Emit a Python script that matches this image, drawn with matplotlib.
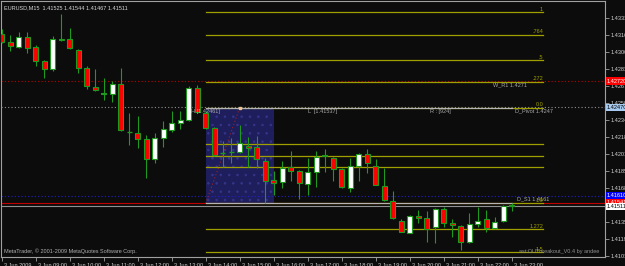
import matplotlib
matplotlib.use('Agg')
import matplotlib.pyplot as plt
from matplotlib.patches import Rectangle
import matplotlib.transforms as mtransforms

plt.rcParams['font.family'] = ['Liberation Sans', 'DejaVu Sans']

# EURUSD M15, 3 Jun 2009 08:00 .. 23:00 (one candle per 15 min)
opens = [1.43175, 1.43097, 1.43049, 1.43146, 1.43049, 1.42914, 1.42836, 1.43126,
         1.43126, 1.43020, 1.42846, 1.42663, 1.42595, 1.42595, 1.42692, 1.42228,
         1.42218, 1.42160, 1.41967, 1.42170, 1.42247, 1.42315, 1.42344, 1.42653,
         1.42411, 1.42267, 1.42025, 1.42035, 1.42035, 1.42093, 1.42083, 1.41948,
         1.41764, 1.41745, 1.41890, 1.41851, 1.41726, 1.41842, 1.41996, 1.41977,
         1.41870, 1.41687, 1.41899, 1.42015, 1.41899, 1.41706, 1.41561, 1.41368,
         1.41252, 1.41416, 1.41397, 1.41310, 1.41484, 1.41349, 1.41320, 1.41165,
         1.41339, 1.41388, 1.41301, 1.41368, 1.41525]
highs = [1.43223, 1.43165, 1.43194, 1.43194, 1.43068, 1.42923, 1.43155, 1.43368,
         1.43233, 1.43030, 1.42865, 1.42836, 1.42750, 1.42721, 1.42846, 1.42411,
         1.42382, 1.42199, 1.42218, 1.42334, 1.42431, 1.42431, 1.42672, 1.42682,
         1.42431, 1.42276, 1.42141, 1.42170, 1.42296, 1.42180, 1.42189, 1.41977,
         1.41851, 1.41948, 1.42044, 1.41860, 1.41977, 1.42044, 1.42064, 1.41986,
         1.41880, 1.41977, 1.42025, 1.42064, 1.41967, 1.41880, 1.41658, 1.41388,
         1.41426, 1.41474, 1.41465, 1.41494, 1.41503, 1.41388, 1.41330, 1.41445,
         1.41503, 1.41474, 1.41407, 1.41523, 1.41544]
lows = [1.43088, 1.43010, 1.43039, 1.42991, 1.42865, 1.42750, 1.42817, 1.43107,
        1.43030, 1.42798, 1.42643, 1.42624, 1.42537, 1.42518, 1.42238, 1.42102,
        1.42073, 1.41784, 1.41928, 1.42083, 1.42228, 1.42257, 1.42334, 1.42411,
        1.42257, 1.41996, 1.41890, 1.41928, 1.42025, 1.41890, 1.41880, 1.41542,
        1.41619, 1.41687, 1.41755, 1.41581, 1.41619, 1.41697, 1.41842, 1.41755,
        1.41687, 1.41648, 1.41755, 1.41832, 1.41716, 1.41561, 1.41388, 1.41262,
        1.41248, 1.41349, 1.41165, 1.41156, 1.41310, 1.41214, 1.41088, 1.41156,
        1.41310, 1.41262, 1.41291, 1.41359, 1.41467]
closes = [1.43097, 1.43059, 1.43146, 1.43039, 1.42914, 1.42836, 1.43126, 1.43117,
          1.43039, 1.42846, 1.42672, 1.42634, 1.42605, 1.42692, 1.42247, 1.42233,
          1.42160, 1.41967, 1.42170, 1.42257, 1.42315, 1.42344, 1.42653, 1.42421,
          1.42267, 1.42006, 1.42020, 1.42040, 1.42122, 1.42073, 1.41967, 1.41755,
          1.41735, 1.41880, 1.41851, 1.41735, 1.41842, 1.41986, 1.42006, 1.41870,
          1.41695, 1.41899, 1.42015, 1.41928, 1.41720, 1.41571, 1.41392, 1.41266,
          1.41416, 1.41397, 1.41291, 1.41484, 1.41349, 1.41330, 1.41165, 1.41339,
          1.41368, 1.41301, 1.41359, 1.41513, 1.41511]

time_labels = ['3 Jun 2009', '3 Jun 09:00', '3 Jun 10:00', '3 Jun 11:00', '3 Jun 12:00',
               '3 Jun 13:00', '3 Jun 14:00', '3 Jun 15:00', '3 Jun 16:00', '3 Jun 17:00',
               '3 Jun 18:00', '3 Jun 19:00', '3 Jun 20:00', '3 Jun 21:00', '3 Jun 22:00',
               '3 Jun 23:00']
time_ticks = [0, 4, 8, 12, 16, 20, 24, 28, 32, 36, 40, 44, 48, 52, 56, 60]

price_ticks = [1.43330, 1.43165, 1.43000, 1.42835, 1.42670, 1.42505, 1.42340, 1.42180,
               1.42015, 1.41855, 1.41685, 1.41520, 1.41355, 1.41190, 1.41030]

# breakout box (14:00-16:00) and its fibo projections
box_start, box_end, line_end, fib_end = 24, 32, 60, 63.7
box_high, box_low = 1.42461, 1.41537
fib_prices = [1.43385, 1.43167, 1.42923, 1.42712, 1.42461, 1.42108, 1.41999, 1.41890,
              1.41537, 1.41286, 1.41065]
fib_names = ['1', '.764', '.5', '.272', '0.0', '', '', '', '1.0', '1.272', '1.5']

w_r1, d_pivot, d_s1 = 1.42720, 1.42465, 1.41610
bid, ask = 1.41511, 1.41542

bg = '#0c0c0c'
green = '#1e9a1e'
fib_col = '#9f9f00'
grey = '#a0a0a0'

fig = plt.figure(figsize=(6.25, 2.66), dpi=100, facecolor=bg)
ax = fig.add_axes([1 / 625, 9 / 266, 604 / 625, 256 / 266], facecolor=bg)
ax.set_xlim(-0.08, 70.98)
ax.set_ylim(1.41020, 1.43493)

# box
plt.rcParams['hatch.linewidth'] = 0.6
ax.add_patch(Rectangle((box_start, box_low), box_end - box_start, box_high - box_low,
                       facecolor='#1e1e5c', edgecolor='#34348a', hatch='..', lw=0, zorder=1))
ax.plot([box_start, box_start + 4], [box_low, box_high], color='#a02020',
        ls=(0, (1, 2)), lw=0.8, zorder=2)
ax.plot([box_start + 4], [box_high], 's', color='#f0c090', ms=1.5, zorder=4)

# full width lines
ax.axhline(w_r1, color='#c00000', ls=(0, (1, 2)), lw=0.8, zorder=1.5)
ax.axhline(d_pivot, color='#909090', ls=(0, (1, 2)), lw=0.8, zorder=1.5)
ax.axhline(d_s1, color='#2020d0', ls=(0, (1, 2)), lw=0.8, zorder=1.5)
ax.axhline(ask, color='#c00000', lw=0.8, zorder=1.5)
ax.axhline(bid, color='#909090', lw=0.8, zorder=1.5)

# fib levels
for p, name in zip(fib_prices, fib_names):
    ax.plot([box_start, fib_end], [p, p], color=fib_col, lw=0.9, zorder=2)
    if name:
        ax.text(fib_end, p + 0.00004, name, color=fib_col, fontsize=4, ha='right',
                va='bottom', zorder=5)
for p in [box_high, box_low]:
    ax.plot([box_start, line_end], [p, p], color='#b4b4b4', lw=0.8, zorder=2.1)

# candles
for i in range(len(opens)):
    o, h, l, c = opens[i], highs[i], lows[i], closes[i]
    ax.vlines(i, l, h, color=green, lw=0.8, zorder=3)
    lo, hi = min(o, c), max(o, c)
    if hi - lo < 0.00008:
        ax.hlines((o + c) / 2, i - 0.3, i + 0.3, color=green, lw=1, zorder=3.2)
        continue
    face = '#ffffff' if c > o else '#ff0000'
    ax.add_patch(Rectangle((i - 0.28, lo), 0.56, hi - lo, facecolor=face,
                           edgecolor=green, lw=0.8, zorder=3.1))

# object labels
lab = dict(color='#a8a8a8', fontsize=4, zorder=5)
ax.text(24, box_high - 0.00008, 'H [1.42461]', ha='center', va='top', **lab)
ax.text(36, box_high - 0.00008, 'L  [1.41537]', ha='left', va='top', **lab)
ax.text(50.4, box_high - 0.00008, 'R : [924]', ha='left', va='top', **lab)
ax.text(60.4, box_high - 0.00008, 'D_Pivot 1.4247', ha='left', va='top', **lab)
ax.text(57.8, w_r1 - 0.00008, 'W_R1 1.4271', ha='left', va='top', **lab)
ax.text(60.6, d_s1 - 0.00008, 'D_S1 1.4161', ha='left', va='top', **lab)

ax.text(0.005, 0.985, 'EURUSD,M15  1.41525 1.41544 1.41467 1.41511', transform=ax.transAxes,
        color='#d8d8d8', fontsize=4, ha='left', va='top', zorder=6)
ax.text(0.005, 0.012, 'MetaTrader, \u00a9 2001-2009 MetaQuotes Software Corp.',
        transform=ax.transAxes, color='#b0b0b0', fontsize=4, ha='left', va='bottom', zorder=6)
ax.text(0.99, 0.012, 'ast:OUTbreakout_V0.4 by andee', transform=ax.transAxes,
        color='#909090', fontsize=4, ha='right', va='bottom', zorder=6)

# axes styling
for s in ['top', 'left', 'right', 'bottom']:
    ax.spines[s].set_color(grey)
    ax.spines[s].set_linewidth(0.8)
ax.yaxis.tick_right()
ax.set_yticks(price_ticks)
ax.set_yticklabels(['%.5f' % p for p in price_ticks])
ax.set_xticks(time_ticks)
ax.set_xticklabels(time_labels)
ax.tick_params(axis='both', colors=grey, labelcolor='#d0d0d0', labelsize=4,
               length=3, width=0.6, pad=1)
shift = mtransforms.ScaledTranslation(2 / 100, 0, fig.dpi_scale_trans)
for t in ax.get_xticklabels():
    t.set_ha('left')
    t.set_transform(t.get_transform() + shift)

# price boxes on the right scale
tag = [(w_r1, '1.42720', '#ff0000', 'white'),
       (d_pivot, '1.42470', '#a6caf0', 'black'),
       (d_s1, '1.41610', '#0000ff', 'white'),
       (ask, '1.41541', '#ff0000', 'white'),
       (bid, '1.41511', '#ffffff', 'black')]
for p, txt, fc, tc in tag:
    ax.text(1.003, p, txt, transform=ax.get_yaxis_transform(), color=tc, fontsize=4,
            ha='left', va='center', clip_on=False, zorder=10,
            bbox=dict(boxstyle='square,pad=0.2', facecolor=fc, edgecolor='none'))

fig.savefig('out.png', dpi=100, facecolor=bg)
